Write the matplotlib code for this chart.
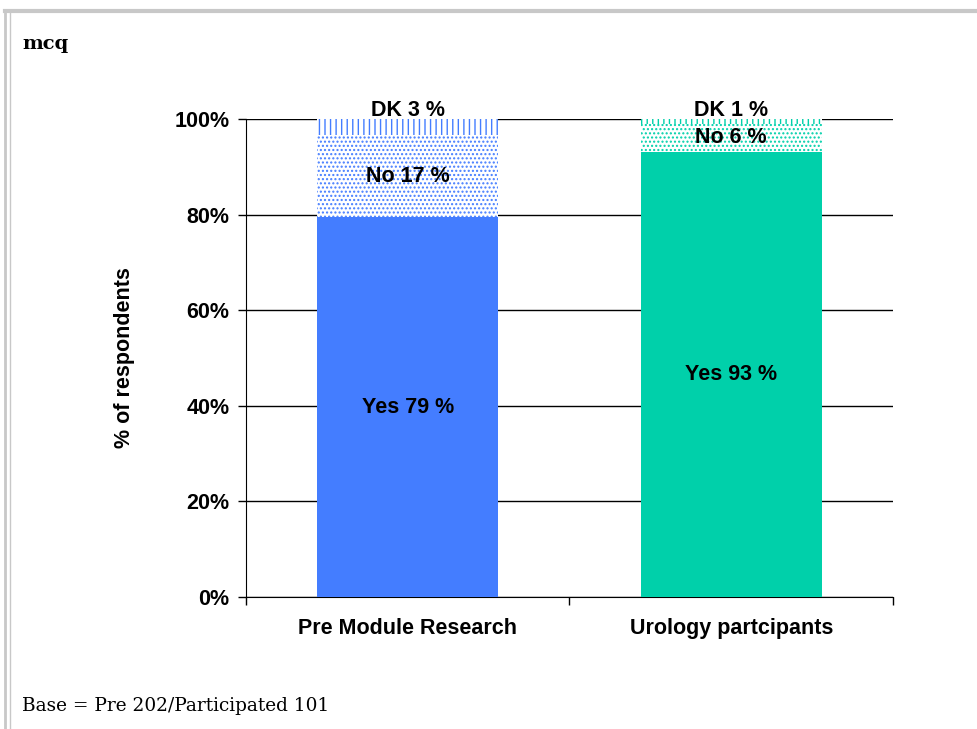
import matplotlib
matplotlib.use("Agg")
import matplotlib.pyplot as plt
from matplotlib.lines import Line2D
import numpy as np

categories = ["Pre Module Research", "Urology partcipants"]
yes_vals = [79.4, 93.1]
no_vals = [17.3, 5.9]
dk_vals = [3.3, 1.0]
yes_labels = ["Yes 79 %", "Yes 93 %"]
no_labels = ["No 17 %", "No 6 %"]
dk_labels = ["DK 3 %", "DK 1 %"]
bar_colors = ["#447DFF", "#00D0AA"]
yticks = [0, 20, 40, 60, 80, 100]

plt.rcParams['font.family'] = ['Liberation Sans', 'DejaVu Sans']
plt.rcParams['hatch.linewidth'] = 1.0

FS = 15.5
fig = plt.figure(figsize=(9.78, 7.29), dpi=100)
ax = fig.add_axes([246/978, 1-597/729, (893-246)/978, (597-119)/729])

x = np.arange(len(categories))
w = 0.56
yes = np.array(yes_vals); no = np.array(no_vals); dk = np.array(dk_vals)

for i in range(len(categories)):
    ax.bar(x[i], yes[i], width=w, color=bar_colors[i], zorder=3)
    ax.bar(x[i], no[i], width=w, bottom=yes[i], facecolor="white",
           edgecolor=bar_colors[i], hatch="....", linewidth=0, zorder=3)
    ax.bar(x[i], dk[i], width=w, bottom=yes[i]+no[i], facecolor="white",
           edgecolor=bar_colors[i], hatch="|||", linewidth=0, zorder=3)
    ax.text(x[i], yes[i]/2, yes_labels[i], ha="center", va="center",
            fontsize=FS, fontweight="bold", zorder=5)
    ax.text(x[i], yes[i] + no[i]/2, no_labels[i], ha="center", va="center",
            fontsize=FS, fontweight="bold", zorder=5)
    ax.text(x[i], yes[i]+no[i]+dk[i] + 1.8, dk_labels[i], ha="center", va="center",
            fontsize=FS, fontweight="bold", zorder=5)

ax.set_xlim(-0.5, 1.5)
ax.set_ylim(0, 100)
ax.set_yticks(yticks)
ax.set_yticklabels([f"{t}%" for t in yticks], fontsize=FS, fontweight="bold")
ax.yaxis.grid(True, color="black", linewidth=1.0, zorder=0)
ax.set_axisbelow(True)
ax.set_xticks(x)
ax.set_xticklabels(categories, fontsize=FS, fontweight="bold")
ax.tick_params(axis="x", length=0, pad=15)
ax.set_xticks([-0.5, 0.5, 1.5], minor=True)
ax.tick_params(axis="x", which="minor", length=6, width=1, color="black", direction="out")
ax.tick_params(axis="y", length=6, width=1, direction="out", pad=6)
for s in ["top", "right"]:
    ax.spines[s].set_visible(False)
ax.spines["left"].set_color("black")
ax.spines["bottom"].set_color("black")
ax.set_ylabel("% of respondents", fontsize=FS, fontweight="bold")
ax.yaxis.set_label_coords((135-246)/647, 0.5)

fig.text(22/978, 1-44/729, "mcq", fontsize=14, fontweight="bold",
         family=["DejaVu Serif"], va="center", ha="left")
fig.text(22/978, 1-706/729, "Base = Pre 202/Participated 101", fontsize=13.3,
         family=["DejaVu Serif"], va="center", ha="left")

# frame lines
fig.add_artist(Line2D([5/978, 1], [1-11/729, 1-11/729], color="#c8c8c8", linewidth=3, transform=fig.transFigure))
fig.add_artist(Line2D([5/978, 5/978], [0, 1-11/729], color="#c8c8c8", linewidth=2, transform=fig.transFigure))
fig.add_artist(Line2D([9.5/978, 9.5/978], [0, 1-11/729], color="#c8c8c8", linewidth=1, transform=fig.transFigure))

fig.savefig("out.png", dpi=100, facecolor="white")
